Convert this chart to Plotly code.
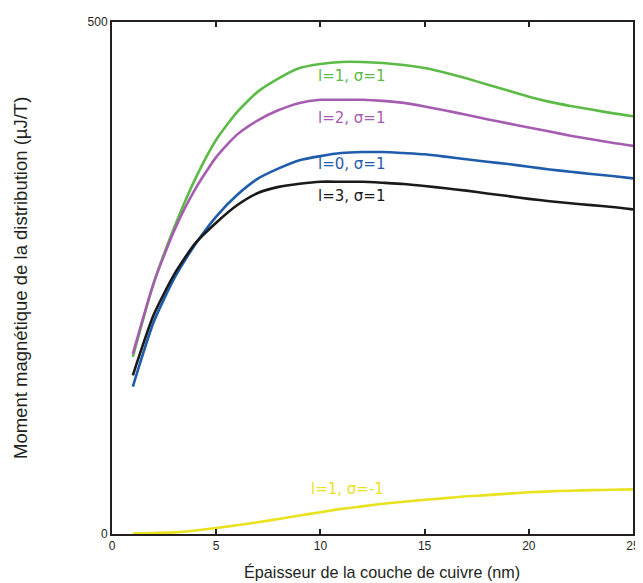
import plotly.graph_objects as go

thickness_nm = list(range(1, 26))

m_l1_s1 = [173, 245, 300, 347, 385, 412, 432, 445, 455, 459, 461, 461, 460, 458, 455,
           450.5, 445, 439, 433, 427, 422, 418, 414.5, 411, 408]
m_l2_s1 = [176, 245, 297, 337, 368, 390, 404, 414, 421, 424, 424, 424, 423, 421, 417.5,
           413.5, 409.5, 405, 401, 397, 393, 389, 385.5, 382, 379]
m_l0_s1 = [144, 207, 250, 283, 310, 331, 347, 357, 365, 369, 372, 373, 373, 372, 370.8,
           368.5, 366, 363.5, 361.3, 358.7, 356, 353.8, 351.6, 349.6, 347.3]
m_l3_s1 = [155, 214, 254, 284, 304, 321, 333, 339, 342, 344, 344, 344, 343, 341.8, 339.8,
           337.6, 335.3, 332.6, 330, 327.3, 325, 323, 321.2, 319.4, 317]
m_l1_sm1 = [0.5, 1, 1.6, 3.5, 5.9, 8.5, 11.5, 14.7, 18, 21.3, 24.5, 27, 29.5, 31.5, 33.5,
            35, 36.8, 38, 39.4, 40.7, 41.6, 42.3, 42.8, 43.2, 43.6]

series_names = ["l=1, σ=1", "l=2, σ=1", "l=0, σ=1", "l=3, σ=1", "l=1, σ=-1"]
series_values = [m_l1_s1, m_l2_s1, m_l0_s1, m_l3_s1, m_l1_sm1]
series_colors = ["#5cbb46", "#a65cb1", "#1f5cab", "#1a1a1a", "#e9e21e"]
label_x = [11.5, 11.5, 11.5, 11.5, 11.3]
label_y = [447, 406, 361, 330, 44]

x_tick_vals = [0, 5, 10, 15, 20, 25]
y_tick_vals = [0, 500]
x_title = "Épaisseur de la couche de cuivre (nm)"
y_title = "Moment magnétique de la distribution (µJ/T)"

fig = go.Figure()
for name, vals, col in zip(series_names, series_values, series_colors):
    fig.add_trace(go.Scatter(x=thickness_nm, y=vals, mode="lines", name=name,
                             line=dict(color=col, width=2.6, shape="spline", smoothing=0.6),
                             showlegend=False))

for name, lx, ly, col in zip(series_names, label_x, label_y, series_colors):
    fig.add_annotation(x=lx, y=ly, text=name, showarrow=False,
                       font=dict(family="DejaVu Sans", size=15, color=col),
                       xanchor="center", yanchor="middle")

fig.add_annotation(xref="paper", yref="paper", x=0.518, y=-0.074, text=x_title,
                   showarrow=False, xanchor="center", yanchor="middle",
                   font=dict(family="Liberation Sans, Arial", size=16.2, color="#231f20"))
fig.add_annotation(xref="paper", yref="paper", x=-0.1766, y=0.5, text=y_title,
                   textangle=-90, showarrow=False, xanchor="center", yanchor="middle",
                   font=dict(family="Liberation Sans, Arial", size=18.5, color="#231f20"))

axis_col = "#231f20"
fig.update_xaxes(range=[0, 25], tickvals=x_tick_vals, ticks="inside", ticklen=5,
                 tickwidth=1.5, tickcolor=axis_col, showline=True, linecolor=axis_col,
                 linewidth=2, mirror="ticks", showgrid=False, zeroline=False, automargin=False,
                 tickfont=dict(family="Liberation Sans, Arial", size=12, color="#231f20"))
fig.update_yaxes(range=[0, 500], tickvals=y_tick_vals, ticks="", showline=True,
                 linecolor=axis_col, linewidth=2, mirror=True, showgrid=False, zeroline=False,
                 automargin=False,
                 tickfont=dict(family="Liberation Sans, Arial", size=12, color="#231f20"))

# page body adds an 8px offset, so the figure is sized to fit the 643x583 window
fig.update_layout(width=635, height=575, plot_bgcolor="white", paper_bgcolor="white",
                  margin=dict(l=104, r=10, t=14, b=49))

fig.write_html("out.html")
